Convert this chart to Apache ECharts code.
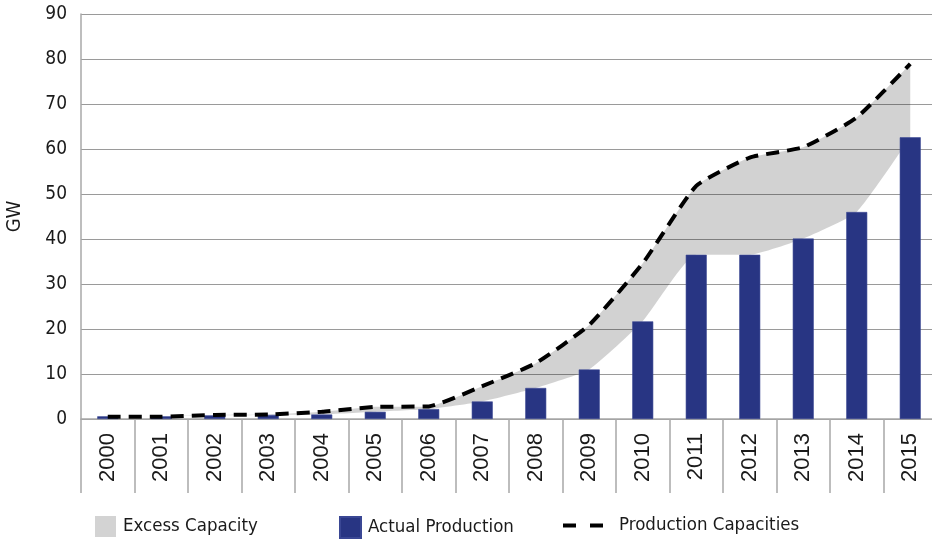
<!DOCTYPE html>
<html>
<head>
<meta charset="utf-8">
<script src="https://cdn.jsdelivr.net/npm/echarts@6/dist/echarts.min.js"></script>
<style>html,body{margin:0;padding:0;background:#fff}#c{width:932px;height:540px}</style>
</head>
<body>
<div id="c"></div>
<script>
var years = ['2000','2001','2002','2003','2004','2005','2006','2007','2008','2009','2010','2011','2012','2013','2014','2015'];
var actualProduction = [0.6, 0.6, 0.8, 0.9, 1.0, 1.6, 2.2, 3.9, 6.9, 11.0, 21.7, 36.5, 36.5, 40.1, 46.0, 62.6];
var productionCapacities = [0.5, 0.5, 0.9, 1.0, 1.6, 2.7, 2.8, 7.3, 12.4, 20.9, 34.6, 51.8, 58.1, 60.4, 67.0, 78.9];
var yTicks = [0, 10, 20, 30, 40, 50, 60, 70, 80, 90];

var excess = productionCapacities.map(function (v, i) { return Math.max(0, +(v - actualProduction[i]).toFixed(2)); });
var COND = '"DejaVu Sans Condensed", "Liberation Sans Narrow", "Liberation Sans", sans-serif';
var SM = 0.15;

var chart = echarts.init(document.getElementById('c'), null, {renderer: 'canvas'});
chart.setOption({
  animation: false,
  backgroundColor: '#fff',
  grid: {left: 81, right: -5, top: 14, bottom: 121, containLabel: false, outerBoundsMode: 'none'},
  legend: [
    {left: 95, top: 516, padding: 0, itemWidth: 21, itemHeight: 21, icon: 'rect', data: ['Excess Capacity'],
     textStyle: {fontFamily: COND, fontSize: 18.5, color: '#1a1a1a', padding: [0,0,0,2]}},
    {left: 339, top: 516, padding: 0, itemWidth: 21, itemHeight: 21, icon: 'rect', data: ['Actual Production'],
     textStyle: {fontFamily: COND, fontSize: 18.5, color: '#1a1a1a', padding: [0,0,0,2]}},
    {left: 561, top: 516, padding: 0, itemWidth: 40, itemHeight: 21,
     data: ['Production Capacities'],
     itemStyle: {opacity: 0},
     lineStyle: {type: [13, 14], width: 4, color: '#000'},
     textStyle: {fontFamily: COND, fontSize: 18.5, color: '#1a1a1a', padding: [0,0,0,11]}}
  ],
  xAxis: {
    type: 'category', data: years, boundaryGap: true,
    axisLine: {lineStyle: {color: '#a8a8a8', width: 1.5}},
    axisTick: {show: true, length: 74, interval: 0, lineStyle: {color: '#a8a8a8', width: 1.5}},
    axisLabel: {rotate: 90, interval: 0, margin: 14, fontFamily: '"Liberation Sans", Arial, sans-serif', fontSize: 22, color: '#1a1a1a'}
  },
  yAxis: {
    type: 'value', min: yTicks[0], max: yTicks[yTicks.length - 1], interval: 10,
    name: 'GW', nameLocation: 'middle', nameGap: 56, nameRotate: 90,
    nameTextStyle: {fontFamily: COND, fontSize: 20, color: '#1a1a1a'},
    axisLine: {show: true, lineStyle: {color: '#a8a8a8', width: 1.5}},
    axisTick: {show: false},
    axisLabel: {margin: 14, fontFamily: COND, fontSize: 19, color: '#1a1a1a'},
    splitLine: {lineStyle: {color: '#9a9a9a', width: 1.2}}
  },
  series: [
    {name: 'base', type: 'line', stack: 'cap', data: actualProduction, smooth: SM, symbol: 'none',
     lineStyle: {width: 0, opacity: 0}, silent: true, z: 1},
    {name: 'Excess Capacity', type: 'line', stack: 'cap', data: excess, smooth: SM, symbol: 'none',
     lineStyle: {width: 0, opacity: 0}, itemStyle: {color: '#d3d3d3'},
     areaStyle: {color: 'rgba(0,0,0,0.175)', opacity: 1}, z: 1},
    {name: 'Actual Production', type: 'bar', data: actualProduction, barWidth: 21,
     itemStyle: {color: '#283583', borderColor: '#3a4794', borderWidth: 0.6}, z: 2},
    {name: 'Production Capacities', type: 'line', data: productionCapacities, smooth: SM, symbol: 'none',
     itemStyle: {color: '#000'},
     lineStyle: {color: '#000', width: 4, type: [13, 8]}, z: 5}
  ]
});
</script>
</body>
</html>
